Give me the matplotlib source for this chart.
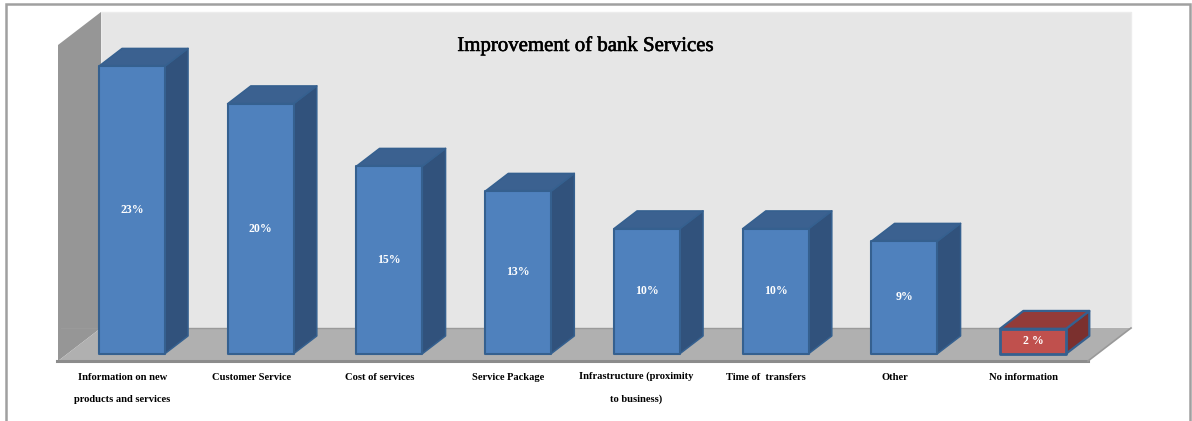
import matplotlib
matplotlib.use('Agg')
import matplotlib.pyplot as plt
import matplotlib.patheffects as pe
from matplotlib.patches import Polygon, Rectangle
from matplotlib.transforms import ScaledTranslation

plt.rcParams['font.family'] = ['Liberation Serif', 'DejaVu Serif']

categories = ['Information on new\nproducts and services', 'Customer Service', 'Cost of services',
              'Service Package', 'Infrastructure (proximity\nto business)', 'Time of  transfers',
              'Other', 'No information']
values = [23, 20, 15, 13, 10, 10, 9, 2]
value_labels = ['23%', '20%', '15%', '13%', '10%', '10%', '9%', '2 %']

W, H = 1192, 421

fig = plt.figure(figsize=(W / 100, H / 100), dpi=100)

# plot area = front plane of the floor, everything else is projected off it
ax = fig.add_axes([58 / W, 1 - 361 / H, 1030 / W, 316 / H])
ax.set_xlim(-0.5, 7.5)
ax.set_ylim(0, 316 / 12.5)

# oblique projection of the depth axis, in data units
depth_x = 43 / 128.75
depth_y = 33 / 12.5


def proj(x, v, d):
    return (x + d * depth_x, v + d * depth_y)


def face(pts, color, edge='none', lw=0, z=1):
    ax.add_patch(Polygon([proj(*p) for p in pts], closed=True, facecolor=color, edgecolor=edge,
                         linewidth=lw, joinstyle='round', clip_on=False, zorder=z))


x0, x1 = ax.get_xlim()
top = ax.get_ylim()[1]

# walls and floor
face([(x0, 0, 1), (x1, 0, 1), (x1, top, 1), (x0, top, 1)], '#e6e6e6', '#ececec', 1)
face([(x0, 0, 0), (x0, 0, 1), (x0, top, 1), (x0, top, 0)], '#969696')
face([(x0, 0, 0), (x1, 0, 0), (x1, 0, 1), (x0, 0, 1)], '#b0b0b0')
ax.plot([x0 - 0.01, x1], [0, 0], color='#8c8c8c', lw=2.2, clip_on=False, zorder=1.5)
ax.plot([x1, x1 + depth_x], [0, depth_y], color='#999999', lw=1.2, clip_on=False, zorder=1.5)
ax.plot([x0 + 0.02, x1], [depth_y, depth_y], color='#9a9a9a', lw=1, clip_on=False, zorder=1.5)

bar_w = 66 / 128.75
d0, d1 = 0.22, 0.76

for i, v in enumerate(values):
    if i == 7:
        front, roof, side = '#c0504d', '#933b39', '#7b302e'
        lw = 2
    else:
        front, roof, side = '#4f81bd', '#3b6190', '#31527c'
        lw = 1.5
    edge = '#35608f'
    l = i - bar_w / 2
    r = i + bar_w / 2
    face([(r, 0, d0), (r, 0, d1), (r, v, d1), (r, v, d0)], side, edge, lw - 0.4, 2 + i)
    face([(l, v, d0), (r, v, d0), (r, v, d1), (l, v, d1)], roof, edge, lw - 0.4, 2 + i)
    face([(l, 0, d0), (r, 0, d0), (r, v, d0), (l, v, d0)], front, edge, lw, 2.1 + i)
    cx, cy = proj(i, v / 2, d0)
    ax.text(cx, cy, value_labels[i], color='white', fontsize=8.5, fontweight='bold',
            ha='center', va='center', zorder=20)

ax.set_xticks(range(len(categories)))
ax.set_xticklabels(categories, fontsize=7.6, fontweight='bold', linespacing=2.75)
ax.tick_params(axis='x', length=0, pad=9)
ax.set_yticks([])
for s in ax.spines.values():
    s.set_visible(False)

# parentheses make this label taller, pull it back onto the row
infra = ax.get_xticklabels()[4]
infra.set_transform(infra.get_transform() + ScaledTranslation(-1 / 100, 2 / 100, fig.dpi_scale_trans))

fig.text(586 / W, 1 - 46 / H, 'Improvement of bank Services', fontsize=15, ha='center', va='center',
         color='black', path_effects=[pe.withStroke(linewidth=0.4, foreground='black')])

# outer frame, open at the bottom of the image
fig.add_artist(Rectangle((6 / W, -0.05), (1190 - 6) / W, 1.05 - 4 / H, transform=fig.transFigure,
                         fill=False, edgecolor='#a0a0a0', linewidth=1.8))

fig.savefig('out.png', dpi=100)
